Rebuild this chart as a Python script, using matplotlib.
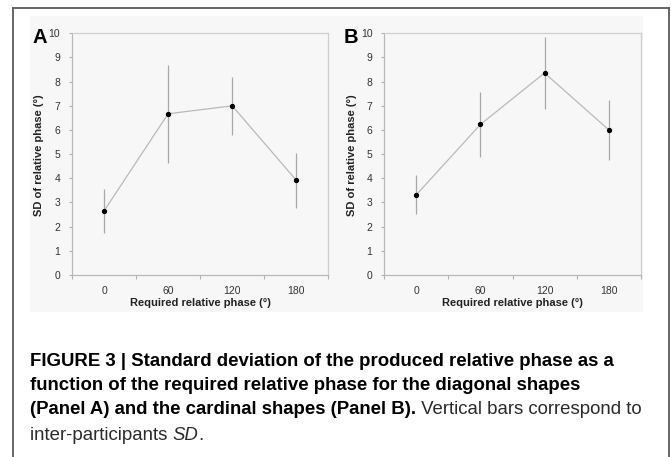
import matplotlib
matplotlib.use("Agg")
import matplotlib.pyplot as plt
from matplotlib.patches import Rectangle
from matplotlib.lines import Line2D

# ---- data ----
categories = ["0", "60", "120", "180"]
panel_a_sd = [2.65, 6.67, 7.00, 3.92]
panel_a_err = [0.90, 2.02, 1.20, 1.13]
panel_b_sd = [3.32, 6.23, 8.36, 6.01]
panel_b_err = [0.80, 1.35, 1.50, 1.24]
panel_labels = ["A", "B"]
y_ticks = [0, 1, 2, 3, 4, 5, 6, 7, 8, 9, 10]
x_label = "Required relative phase (°)"
y_label = "SD of relative phase (°)"

W, H = 671, 457
fig = plt.figure(figsize=(W / 100, H / 100), dpi=100)
fig.patch.set_facecolor("white")

sans = "Liberation Sans"

def px(x, y):
    return x / W, 1 - y / H

# faint background of the chart image
bx0, by0 = px(30, 312)
bx1, by1 = px(643, 16)
fig.patches.append(Rectangle((bx0, by0), bx1 - bx0, by1 - by0, transform=fig.transFigure,
                             facecolor="#f7f7f7", edgecolor="none", zorder=-5))

# outer frame
frame_col = "#5a5a5a"
fig.lines.append(Line2D([12.5 / W, 12.5 / W], [0, 1 - 7.5 / H], transform=fig.transFigure,
                        color=frame_col, lw=1.3))
fig.lines.append(Line2D([12.5 / W, 669 / W], [1 - 7.5 / H, 1 - 7.5 / H], transform=fig.transFigure,
                        color=frame_col, lw=1.3))
fig.lines.append(Line2D([669 / W, 669 / W], [0, 1 - 7.5 / H], transform=fig.transFigure,
                        color=frame_col, lw=1.3))

axes_px = [(72, 328.3), (384.3, 640.7)]
top_px, bot_px = 33.3, 275
label_x = [40, 351]
ylab_x = [39, 352]

for i, (vals, errs) in enumerate([(panel_a_sd, panel_a_err), (panel_b_sd, panel_b_err)]):
    l, r = axes_px[i]
    ax = fig.add_axes([l / W, 1 - bot_px / H, (r - l) / W, (bot_px - top_px) / H])
    ax.set_facecolor("none")
    xs = list(range(len(categories)))
    ax.errorbar(xs, vals, yerr=errs, fmt="none", ecolor="#a8a8a8", elinewidth=0.9, capsize=0, zorder=2)
    ax.plot(xs, vals, color="#b9b9b9", lw=0.9, zorder=3)
    ax.plot(xs, vals, "o", color="black", ms=2.8, zorder=4)
    ax.set_xlim(-0.5, len(categories) - 0.5)
    ax.set_ylim(0, 10)
    ax.set_yticks(y_ticks)
    ax.set_yticklabels([str(t) for t in y_ticks])
    ax.set_xticks([k - 0.5 for k in range(len(categories) + 1)])
    ax.set_xticklabels([])
    ax.set_xticks(xs, minor=True)
    ax.set_xticklabels(categories, minor=True)
    ax.tick_params(axis="x", which="minor", length=0, pad=8)
    ax.tick_params(axis="x", which="major", length=3, width=0.8, color="#b0b0b0")
    ax.tick_params(axis="y", length=2.5, width=0.8, color="#b0b0b0", pad=6)
    for t in ax.get_xticklabels(minor=True) + ax.get_yticklabels():
        t.set_fontfamily(sans)
        t.set_fontsize(7.5)
        t.set_color("#333333")
    for s in ax.spines.values():
        s.set_color("#cfcfcf")
        s.set_linewidth(0.9)
    ax.spines["left"].set_color("#b8b8b8")
    ax.spines["bottom"].set_color("#b8b8b8")
    cx = (l + r) / 2
    fig.text(cx / W, 1 - 303 / H, x_label, ha="center", va="center", fontsize=8,
             fontweight="bold", family=sans, color="#222222")
    fig.text(ylab_x[i] / W, 1 - 155 / H, y_label, ha="center", va="center", rotation=90,
             fontsize=8, fontweight="bold", family=sans, color="#222222")
    fig.text(label_x[i] / W, 1 - 37.5 / H, panel_labels[i], ha="center", va="center",
             fontsize=14.5, fontweight="bold", family=sans, color="black")

# ---- caption ----
cap_size = 13.4
renderer = fig.canvas.get_renderer()

def runs(x0, ybase, parts):
    x = x0
    for txt, weight, style, col in parts:
        t = fig.text(x / W, 1 - ybase / H, txt, ha="left", va="baseline", fontsize=cap_size,
                     fontweight=weight, fontstyle=style, family=sans, color=col)
        bb = t.get_window_extent(renderer=renderer)
        x += bb.width

runs(29.5, 365.5, [("FIGURE 3 | Standard deviation of the produced relative phase as a", "bold", "normal", "black")])
runs(29.5, 390, [("function of the required relative phase for the diagonal shapes", "bold", "normal", "black")])
runs(29.5, 414.5, [("(Panel A) and the cardinal shapes (Panel B).", "bold", "normal", "black"),
                   (" Vertical bars correspond to", "normal", "normal", "#2a2a2a")])
runs(29.5, 439.5, [("inter-participants ", "normal", "normal", "#2a2a2a"),
                   ("SD", "normal", "italic", "#2a2a2a"),
                   (".", "normal", "normal", "#2a2a2a")])

fig.savefig("out.png", dpi=100)
